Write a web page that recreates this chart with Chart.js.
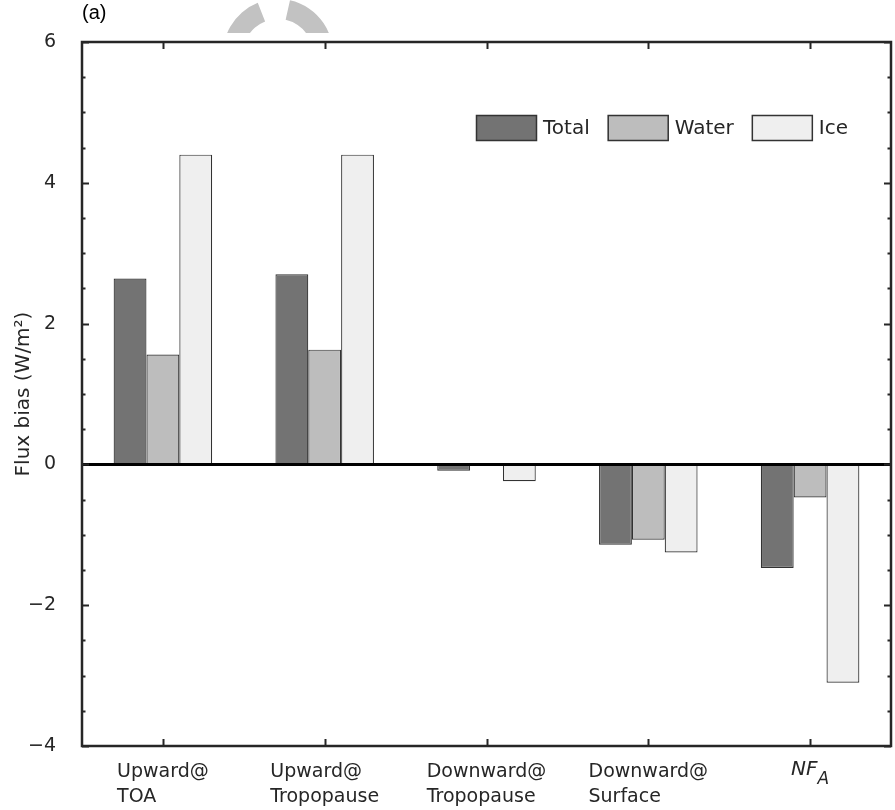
<!DOCTYPE html>
<html>
<head>
<meta charset="utf-8">
<script src="https://cdn.jsdelivr.net/npm/chart.js@4/dist/chart.umd.min.js"></script>
<style>
  html, body { margin: 0; padding: 0; background: #fff; }
  #fluxChart { display: block; }
</style>
</head>
<body>
<canvas id="fluxChart" width="895" height="810"></canvas>
<script>
let categories = [
  ['Upward@', 'TOA'],
  ['Upward@', 'Tropopause'],
  ['Downward@', 'Tropopause'],
  ['Downward@', 'Surface'],
  ['NF_A'],
];
let totalBias = [2.64, 2.70, -0.09, -1.14, -1.47];
let waterBias = [1.56, 1.63, 0.0, -1.07, -0.47];
let iceBias = [4.40, 4.40, -0.24, -1.25, -3.10];
let seriesNames = ['Total', 'Water', 'Ice'];
let seriesColors = ['#737373', '#bdbdbd', '#efefef'];
let yTicks = [-4, -2, 0, 2, 4, 6];

let fontFamily = '"DejaVu Sans", "Noto Sans", sans-serif';
let frameColor = '#262626';

let frameAndLabels = {
  id: 'frameAndLabels',
  afterDatasetsDraw(chart) {
    let { ctx, chartArea: a, scales } = chart;
    let y = scales.y;
    let x = scales.x;
    ctx.save();

    // zero line
    ctx.strokeStyle = '#000';
    ctx.lineWidth = 3;
    ctx.beginPath();
    ctx.moveTo(a.left, y.getPixelForValue(0));
    ctx.lineTo(a.right, y.getPixelForValue(0));
    ctx.stroke();

    // frame
    ctx.strokeStyle = frameColor;
    ctx.lineWidth = 2.5;
    ctx.strokeRect(a.left, a.top, a.right - a.left, a.bottom - a.top);

    // y ticks, inward, both sides
    ctx.lineWidth = 2;
    for (let v = -4; v <= 6; v += 0.5) {
      let py = Math.round(y.getPixelForValue(v)) + 0.5;
      let len = v % 2 === 0 ? 7 : 3.5;
      ctx.beginPath();
      ctx.moveTo(a.left, py);
      ctx.lineTo(a.left + len, py);
      ctx.moveTo(a.right, py);
      ctx.lineTo(a.right - len, py);
      ctx.stroke();
    }
    // x ticks at category centers, top and bottom
    categories.forEach((c, i) => {
      let px = Math.round(x.getPixelForValue(i)) + 0.5;
      ctx.beginPath();
      ctx.moveTo(px, a.top);
      ctx.lineTo(px, a.top + 7);
      ctx.moveTo(px, a.bottom);
      ctx.lineTo(px, a.bottom - 7);
      ctx.stroke();
    });
    ctx.restore();
  },
  afterDraw(chart) {
    let { ctx, chartArea: a, scales } = chart;
    let x = scales.x;
    ctx.save();
    ctx.fillStyle = '#262626';
    ctx.textBaseline = 'middle';

    // category labels, block centred, lines left aligned
    let labelFont = '19px ' + fontFamily;
    ctx.font = labelFont;
    categories.forEach((lines, i) => {
      let cx = x.getPixelForValue(i);
      ctx.textAlign = 'left';
      if (lines[0].includes('_')) {
        let [main, sub] = lines[0].split('_');
        ctx.font = 'italic 20px ' + fontFamily;
        let w1 = ctx.measureText(main).width;
        ctx.font = 'italic 17px ' + fontFamily;
        let w2 = ctx.measureText(sub).width;
        let x0 = cx - (w1 + w2) / 2;
        ctx.font = 'italic 20px ' + fontFamily;
        ctx.fillText(main, x0, a.bottom + 24);
        ctx.font = 'italic 17px ' + fontFamily;
        ctx.fillText(sub, x0 + w1, a.bottom + 34);
        ctx.font = labelFont;
        return;
      }
      let maxW = Math.max(...lines.map((l) => ctx.measureText(l).width));
      lines.forEach((l, j) => {
        ctx.fillText(l, cx - maxW / 2, a.bottom + 26 + j * 25);
      });
    });

    // y title
    ctx.save();
    ctx.translate(24, (a.top + a.bottom) / 2);
    ctx.rotate(-Math.PI / 2);
    ctx.textAlign = 'center';
    ctx.font = '20px ' + fontFamily;
    ctx.fillText('Flux bias (W/m\u00b2)', 0, 0);
    ctx.restore();

    // panel tag
    ctx.textAlign = 'left';
    ctx.font = '20px "Liberation Sans", Arial, sans-serif';
    ctx.fillStyle = '#000';
    ctx.fillText('(a)', 82, 13);

    // grey ring fragments above the frame
    ctx.save();
    ctx.beginPath();
    ctx.rect(0, 0, 895, 33);
    ctx.clip();
    ctx.fillStyle = '#c2c2c2';
    let cx = 278, cy = 54, ro = 55, ri = 35;
    [[Math.PI * 0.95, Math.PI * 1.38], [Math.PI * 1.57, Math.PI * 2.05]].forEach(([s, e]) => {
      ctx.beginPath();
      ctx.arc(cx, cy, ro, s, e);
      ctx.arc(cx, cy, ri, e, s, true);
      ctx.closePath();
      ctx.fill();
    });
    ctx.restore();

    // legend
    ctx.font = '20px ' + fontFamily;
    let lx = 476;
    let ly = 115;
    seriesNames.forEach((name, i) => {
      ctx.fillStyle = seriesColors[i];
      ctx.fillRect(lx, ly, 61, 26);
      ctx.strokeStyle = '#333';
      ctx.lineWidth = 1.5;
      ctx.strokeRect(lx + 0.5, ly + 0.5, 60, 25);
      ctx.fillStyle = '#262626';
      ctx.textAlign = 'left';
      ctx.fillText(name, lx + 67, ly + 14);
      lx += 67 + ctx.measureText(name).width + 18;
    });
    ctx.restore();
  },
};

let datasets = [totalBias, waterBias, iceBias].map((values, i) => ({
  label: seriesNames[i],
  data: values,
  backgroundColor: seriesColors[i],
  borderColor: '#333',
  borderWidth: 1.2,
  borderSkipped: false,
  barPercentage: 1,
  categoryPercentage: 0.609,
}));

new Chart(document.getElementById('fluxChart').getContext('2d'), {
  type: 'bar',
  data: {
    labels: categories.map((c) => c.join(' ')),
    datasets: datasets,
  },
  plugins: [frameAndLabels],
  options: {
    responsive: false,
    devicePixelRatio: 1,
    animation: false,
    layout: {
      padding: { top: 42, right: 4, left: 0, bottom: 0 },
    },
    plugins: {
      legend: { display: false },
      tooltip: { enabled: false },
    },
    scales: {
      x: {
        type: 'category',
        offset: true,
        grid: { display: false },
        border: { display: false },
        ticks: { display: false },
        afterFit: (scale) => {
          scale.height = 64;
        },
      },
      y: {
        min: -4,
        max: 6,
        grid: { display: false },
        border: { display: false },
        afterBuildTicks: (scale) => {
          scale.ticks = yTicks.map((v) => ({ value: v }));
        },
        ticks: {
          padding: 18,
          color: '#262626',
          font: { size: 19, family: fontFamily },
          callback: (v) => (v < 0 ? '\u2212' + Math.abs(v) : String(v)),
        },
        afterFit: (scale) => {
          scale.width = 82;
        },
      },
    },
  },
});
</script>
</body>
</html>
